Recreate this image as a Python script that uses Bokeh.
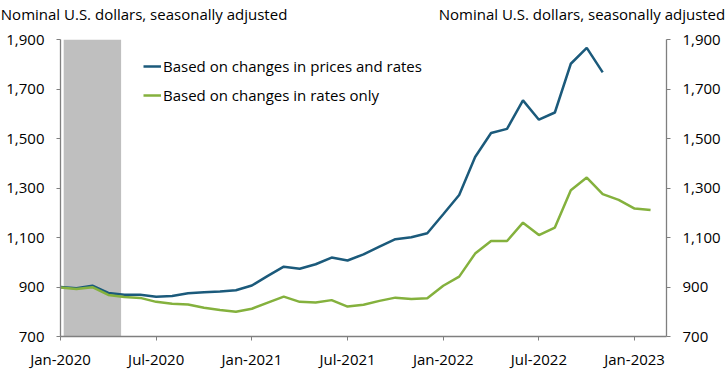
from bokeh.plotting import figure
from bokeh.models import (Range1d, LinearAxis, FixedTicker, NumeralTickFormatter,
                          Legend, LegendItem)
from bokeh.embed import file_html
from bokeh.resources import INLINE

# ---- data ----
tick_months = [0, 6, 12, 18, 24, 30, 36]
tick_labels = ["Jan-2020", "Jul-2020", "Jan-2021", "Jul-2021", "Jan-2022", "Jul-2022", "Jan-2023"]
y_ticks = [700, 900, 1100, 1300, 1500, 1700, 1900]

prices_and_rates = [900, 895, 905, 876, 869, 869, 861, 864, 875, 879, 882, 887,
                    906, 945, 982, 974, 992, 1019, 1007, 1032, 1063, 1093, 1101, 1117,
                    1194, 1272, 1425, 1522, 1539, 1654, 1576, 1605, 1802, 1866, 1767]
rates_only = [898, 892, 899, 868, 860, 856, 840, 832, 829, 816, 807, 800,
              812, 837, 861, 840, 837, 847, 821, 828, 844, 857, 852, 855,
              905, 942, 1035, 1086, 1086, 1160, 1110, 1140, 1291, 1342, 1275, 1252,
              1217, 1211]
months_blue = list(range(len(prices_and_rates)))
months_green = list(range(len(rates_only)))

recession_left = [0.2]
recession_right = [3.8]
recession_bottom = [700]
recession_top = [1900]

title_text = "Nominal U.S. dollars, seasonally adjusted"
series_names = ["Based on changes in prices and rates", "Based on changes in rates only"]

BLUE = "#1b5a7b"
GREEN = "#84b13d"
AXIS = "#7f7f7f"
FONT = "Open Sans"
FS = "15px"

W, H = 725, 385
BL, BR, BT, BB = 60, 59, 38, 49

# horizontal anchor positions (in month units) of the two unit titles above the frame
TITLE_POS = [5.24, 32.70]

p = figure(width=W, height=H, output_backend="svg", toolbar_location=None,
           x_range=Range1d(0, 38), y_range=Range1d(700, 1900),
           min_border_left=BL, min_border_right=BR, min_border_top=BT, min_border_bottom=BB)
p.outline_line_color = None
p.xgrid.visible = False
p.ygrid.visible = False
p.background_fill_color = "white"
p.border_fill_color = "white"

p.quad(left=recession_left, right=recession_right, bottom=recession_bottom, top=recession_top,
       fill_color="#bfbfbf", line_color=None)

r1 = p.line(months_blue, prices_and_rates, line_color=BLUE, line_width=2.5)
r2 = p.line(months_green, rates_only, line_color=GREEN, line_width=2.5)

p.extra_y_ranges = {"right": Range1d(700, 1900)}
raxis = LinearAxis(y_range_name="right")
p.add_layout(raxis, "right")

for ax in [p.yaxis[0], raxis]:
    ax.ticker = FixedTicker(ticks=y_ticks)
    ax.formatter = NumeralTickFormatter(format="0,0")
    ax.major_tick_in = 0
    ax.major_tick_out = 4
    ax.minor_tick_in = 0
    ax.minor_tick_out = 0
    ax.major_label_standoff = 12
    ax.axis_line_color = AXIS
    ax.axis_line_width = 1.3
    ax.major_tick_line_color = AXIS
    ax.major_label_text_font = FONT
    ax.major_label_text_font_size = FS
    ax.major_label_text_color = "black"

xa = p.xaxis[0]
xa.ticker = FixedTicker(ticks=tick_months)
xa.major_label_overrides = {m: lab for m, lab in zip(tick_months, tick_labels)}
xa.major_tick_in = 0
xa.major_tick_out = 4
xa.minor_tick_in = 0
xa.minor_tick_out = 0
xa.major_label_standoff = 8
xa.axis_line_color = AXIS
xa.axis_line_width = 1.3
xa.major_tick_line_color = AXIS
xa.major_label_text_font = FONT
xa.major_label_text_font_size = FS
xa.major_label_text_color = "black"

# unit titles, drawn as labels of an invisible axis above the frame
taxis = LinearAxis(ticker=FixedTicker(ticks=TITLE_POS),
                   major_label_overrides={t: title_text for t in TITLE_POS})
taxis.axis_line_color = None
taxis.major_tick_line_color = None
taxis.minor_tick_line_color = None
taxis.major_tick_in = 0
taxis.major_tick_out = 0
taxis.major_label_standoff = 16
taxis.major_label_text_font = FONT
taxis.major_label_text_font_size = FS
taxis.major_label_text_color = "black"
p.add_layout(taxis, "above")

legend = Legend(items=[LegendItem(label=series_names[0], renderers=[r1]),
                       LegendItem(label=series_names[1], renderers=[r2])],
                location=(83, 231), orientation="vertical",
                border_line_alpha=0, background_fill_alpha=0,
                padding=0, margin=0, spacing=9, glyph_width=18, glyph_height=20,
                label_height=20, label_standoff=2,
                label_text_font=FONT, label_text_font_size=FS, label_text_color="black")
p.add_layout(legend, "center")

open("out.html", "w").write(file_html(p, INLINE))
